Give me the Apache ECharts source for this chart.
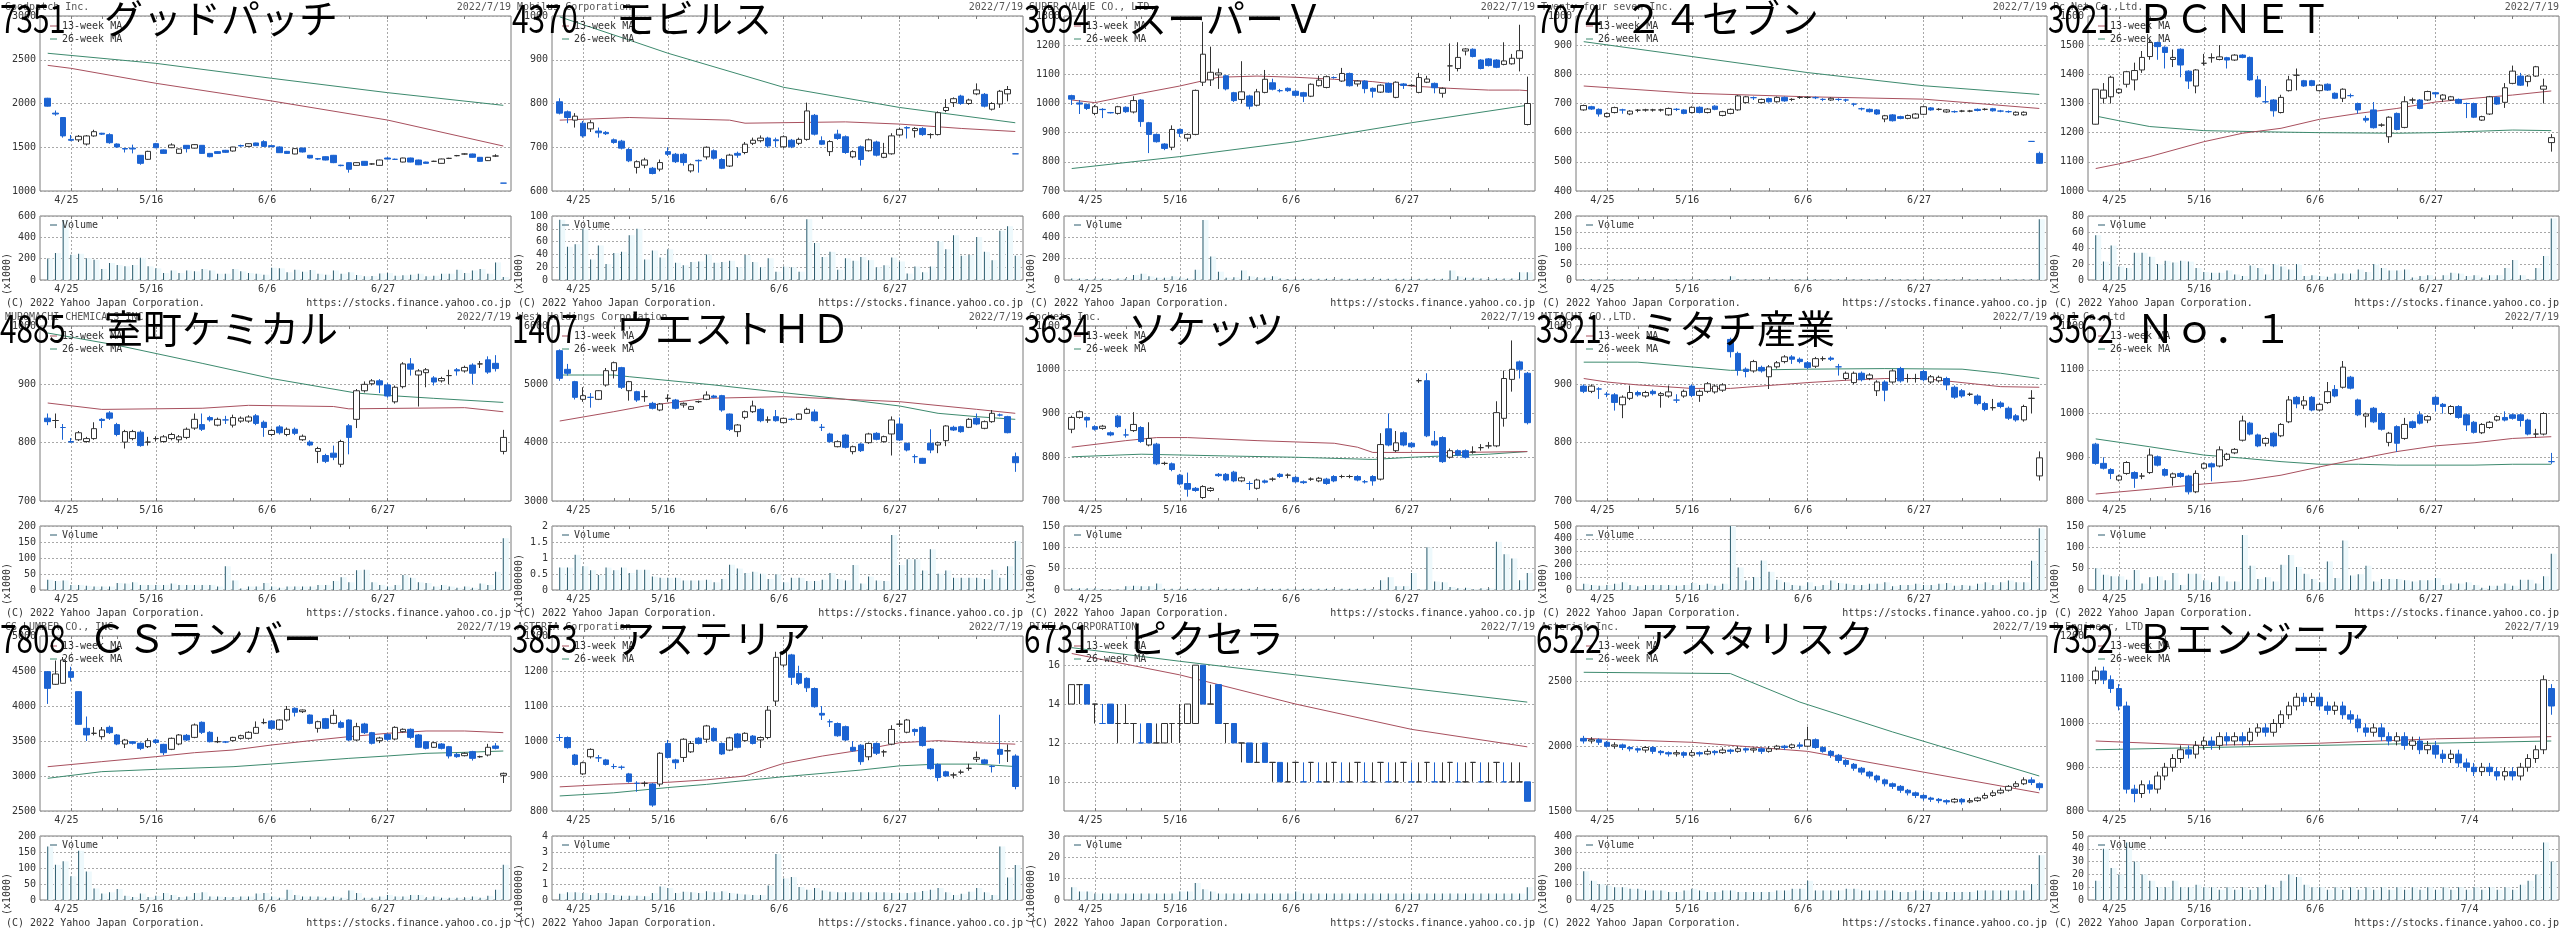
<!DOCTYPE html>
<html><head><meta charset="utf-8">
<script src="https://cdn.jsdelivr.net/npm/echarts@6/dist/echarts.min.js"></script>
<style>
html,body{margin:0;padding:0;background:#fff;}
#wrap{position:relative;width:2560px;height:930px;overflow:hidden;}
.panel{position:absolute;width:512px;height:310px;}
</style></head><body><div id="wrap"></div>
<script>
// Trading days shown on every chart (7/18 is a holiday)
const dates = ['4/20','4/21','4/22','4/25','4/26','4/27','4/28','5/2','5/6','5/9','5/10','5/11','5/12','5/13','5/16','5/17','5/18','5/19','5/20','5/23','5/24','5/25','5/26','5/27','5/30','5/31','6/1','6/2','6/3','6/6','6/7','6/8','6/9','6/10','6/13','6/14','6/15','6/16','6/17','6/20','6/21','6/22','6/23','6/24','6/27','6/28','6/29','6/30','7/1','7/4','7/5','7/6','7/7','7/8','7/11','7/12','7/13','7/14','7/15','7/19'];
const weekStarts = ['4/25','5/2','5/9','5/16','5/23','5/30','6/6','6/13','6/20','6/27','7/4','7/11'];
const labelDates = ['4/25','5/16','6/6','6/27'];
const labelDatesLast = ['4/25','5/16','6/6','7/4'];

// candles are [open, close, low, high]; MA points are [dayIndex, value]
const p1Candles = [[2060,1970,1965,2065],[1890,1880,1860,1920],[1840,1630,1610,1845],[1590,1580,1570,1640],[1585,1625,1560,1640],[1537,1629,1520,1640],[1629,1678,1620,1700],[1660,1650,1640,1665],[1644,1552,1540,1660],[1537,1503,1495,1545],[1485,1480,1440,1490],[1490,1480,1430,1530],[1408,1316,1300,1410],[1362,1453,1355,1460],[1541,1495,1490,1550],[1470,1430,1425,1475],[1495,1526,1490,1545],[1430,1480,1425,1485],[1522,1484,1440,1525],[1490,1530,1485,1535],[1522,1430,1425,1525],[1430,1392,1385,1435],[1450,1430,1425,1455],[1465,1442,1435,1470],[1457,1503,1450,1505],[1520,1515,1505,1530],[1510,1541,1505,1545],[1549,1518,1515,1552],[1564,1510,1505,1580],[1518,1507,1500,1525],[1503,1438,1435,1510],[1453,1430,1425,1458],[1423,1484,1420,1488],[1491,1446,1440,1495],[1408,1377,1372,1412],[1370,1365,1355,1378],[1392,1354,1350,1396],[1408,1324,1318,1412],[1295,1290,1282,1300],[1324,1248,1210,1328],[1293,1324,1290,1328],[1339,1293,1288,1343],[1309,1309,1300,1316],[1293,1354,1290,1358],[1377,1365,1360,1390],[1362,1362,1355,1370],[1331,1377,1327,1380],[1377,1331,1327,1381],[1354,1300,1296,1358],[1331,1316,1312,1335],[1339,1339,1332,1346],[1316,1366,1312,1370],[1373,1373,1365,1380],[1404,1404,1396,1412],[1423,1423,1416,1430],[1423,1385,1380,1427],[1385,1339,1335,1389],[1347,1385,1343,1389],[1400,1400,1390,1420],[1090,1090,1090,1090]];
const p1Volume = [202,252,563,236,246,205,190,103,159,140,128,140,208,128,109,65,90,65,90,81,103,90,59,59,103,81,65,59,50,115,109,72,96,78,93,59,50,90,59,72,47,34,37,62,65,40,44,50,59,34,40,59,59,96,65,90,103,59,165,28];
const p1Ma13 = [[0,2436],[3,2402],[14,2231],[29,2029],[44,1811],[59,1514]];
const p1Ma26 = [[0,2574],[14,2459],[29,2288],[44,2124],[59,1979]];

const p2Candles = [[804,778,775,812],[781,768,755,784],[762,771,745,778],[755,726,722,760],[742,756,735,762],[737,733,722,745],[734,731,728,737],[717,711,708,720],[714,698,695,717],[695,669,666,698],[654,667,640,670],[659,671,652,676],[652,640,638,655],[650,665,645,672],[690,684,680,700],[684,667,664,687],[684,665,658,687],[646,660,642,663],[670,669,642,672],[678,700,672,702],[692,675,672,695],[672,652,650,675],[657,682,655,685],[686,682,676,690],[688,707,684,712],[709,716,705,722],[715,721,711,727],[721,703,699,724],[717,715,700,722],[701,724,698,727],[716,701,698,719],[709,718,705,722],[718,783,715,802],[773,730,727,776],[715,707,705,725],[690,713,680,716],[730,720,717,740],[724,688,685,727],[678,690,675,693],[701,672,658,704],[692,717,690,720],[712,682,679,715],[677,686,675,710],[685,726,683,732],[728,741,725,745],[745,744,720,748],[738,743,722,746],[743,729,726,746],[729,729,720,732],[729,779,727,782],[784,791,780,810],[802,811,792,814],[817,800,797,820],[800,808,797,811],[822,831,819,846],[821,794,791,824],[787,800,784,803],[799,828,790,831],[822,832,805,840],[685,685,685,685]];
const p2Volume = [94,52,56,80,32,54,25,42,44,70,80,32,46,35,48,27,23,28,29,40,27,28,30,20,39,28,20,34,13,21,20,13,95,58,36,44,16,34,30,36,31,20,23,35,29,10,21,12,21,61,48,70,38,39,67,44,31,77,84,38];
const p2Ma13 = [[0,762],[9,768],[22,762],[24,755],[37,758],[44,753],[52,743],[59,736]];
const p2Ma26 = [[0,998],[9,945],[14,915],[29,837],[44,791],[59,756]];

const p3Candles = [[1027,1015,995,1030],[1002,998,964,1012],[997,983,978,1000],[966,989,960,995],[980,979,950,984],[969,968,966,971],[966,989,962,992],[987,972,968,990],[971,1010,966,1025],[1012,938,920,1015],[934,894,830,937],[894,869,866,897],[861,846,840,864],[850,911,840,925],[911,898,885,914],[881,894,870,897],[894,1045,891,1048],[1073,1169,1060,1280],[1081,1107,1060,1195],[1098,1105,1050,1120],[1095,1050,1045,1098],[1037,1010,1005,1040],[1014,1040,1000,1145],[1026,991,980,1030],[994,1040,990,1050],[1038,1083,1035,1115],[1071,1049,1045,1085],[1044,1044,1038,1050],[1052,1044,1040,1055],[1042,1028,1024,1046],[1037,1025,1005,1040],[1025,1066,1022,1069],[1061,1080,1058,1095],[1055,1092,1052,1096],[1089,1089,1085,1093],[1077,1103,1074,1122],[1103,1061,1058,1106],[1067,1077,1058,1080],[1077,1051,1035,1080],[1052,1042,1020,1055],[1039,1063,1036,1066],[1069,1039,1036,1072],[1021,1073,1018,1076],[1067,1062,1050,1070],[1062,1062,1058,1066],[1038,1089,1035,1105],[1073,1084,1070,1095],[1069,1054,1035,1072],[1035,1052,1020,1055],[1129,1129,1077,1206],[1120,1158,1110,1210],[1180,1187,1165,1190],[1186,1161,1158,1189],[1149,1120,1117,1152],[1153,1130,1127,1156],[1149,1124,1121,1152],[1134,1146,1131,1210],[1136,1155,1133,1170],[1155,1181,1110,1270],[928,1000,925,1092]];
const p3Volume = [15,15,9,15,15,9,15,15,47,59,34,22,22,34,22,15,96,563,221,78,22,25,90,34,22,22,34,15,9,9,12,12,12,12,12,12,12,12,12,12,12,12,12,12,12,12,12,12,12,90,34,22,22,15,15,15,15,15,72,72];
const p3Ma13 = [[0,1012],[3,1003],[9,1035],[14,1060],[19,1090],[24,1094],[29,1090],[34,1083],[39,1075],[44,1060],[49,1052],[54,1046],[58,1046],[59,1044]];
const p3Ma26 = [[0,777],[14,818],[29,869],[44,934],[59,994]];

const p4Candles = [[678,693,675,696],[689,681,678,692],[680,664,655,683],[655,666,652,669],[669,686,666,689],[678,678,665,682],[664,674,660,677],[677,677,670,681],[678,678,672,682],[678,678,672,682],[678,678,672,682],[661,683,658,686],[680,680,674,684],[678,666,663,681],[669,687,666,690],[687,669,666,690],[669,681,666,684],[691,680,677,694],[659,672,656,675],[666,680,663,683],[678,726,675,729],[703,723,700,726],[720,720,712,724],[703,714,700,717],[717,706,703,720],[706,721,703,724],[721,709,706,724],[714,714,708,718],[721,721,716,725],[721,721,716,725],[720,720,715,724],[714,714,708,718],[712,718,709,721],[714,714,708,718],[712,712,705,716],[698,698,690,702],[682,682,676,686],[680,672,669,683],[678,664,661,681],[647,658,636,661],[661,641,638,664],[655,649,646,658],[649,659,646,662],[650,664,647,667],[663,689,660,692],[685,678,675,688],[680,680,676,684],[671,678,668,681],[672,672,668,676],[674,674,670,678],[674,674,670,678],[680,676,673,683],[680,680,676,684],[682,675,672,685],[674,674,670,678],[672,672,668,676],[661,670,658,673],[661,670,658,673],[570,570,570,570],[529,495,493,535]];
const p4Volume = [3,2,2,2,2,2,2,2,2,2,2,2,2,2,2,2,2,2,2,12,2,2,2,2,2,2,2,2,2,4,2,2,2,2,2,2,2,2,2,2,2,2,2,2,2,2,2,2,2,2,2,2,2,2,2,2,2,2,2,190];
const p4Ma13 = [[0,760],[14,735],[29,723],[44,715],[59,683]];
const p4Ma26 = [[0,912],[14,861],[29,806],[44,761],[59,731]];

const p5Candles = [[1229,1349,1228,1349],[1318,1346,1300,1370],[1323,1390,1300,1395],[1337,1349,1333,1352],[1366,1409,1355,1412],[1381,1413,1345,1440],[1415,1458,1405,1480],[1461,1509,1450,1520],[1509,1495,1450,1512],[1493,1475,1420,1496],[1451,1458,1425,1485],[1486,1432,1390,1489],[1411,1377,1350,1414],[1360,1415,1335,1418],[1438,1438,1430,1470],[1457,1457,1440,1472],[1451,1460,1448,1500],[1457,1449,1420,1460],[1449,1466,1446,1469],[1466,1458,1455,1469],[1458,1381,1378,1461],[1381,1323,1320,1395],[1306,1306,1300,1360],[1312,1275,1255,1315],[1269,1321,1266,1330],[1344,1381,1341,1395],[1397,1397,1345,1420],[1378,1360,1357,1381],[1378,1362,1359,1381],[1344,1363,1341,1366],[1366,1346,1343,1369],[1335,1318,1315,1338],[1318,1349,1305,1352],[1327,1327,1320,1334],[1300,1278,1265,1303],[1249,1243,1235,1258],[1278,1217,1214,1305],[1226,1226,1220,1232],[1186,1253,1165,1256],[1266,1211,1208,1269],[1218,1306,1215,1325],[1312,1312,1300,1320],[1312,1283,1280,1315],[1312,1341,1309,1344],[1337,1333,1320,1340],[1315,1329,1305,1332],[1312,1323,1309,1326],[1314,1301,1298,1317],[1300,1300,1250,1303],[1300,1253,1250,1303],[1243,1255,1240,1258],[1264,1323,1261,1326],[1321,1298,1295,1324],[1304,1354,1285,1370],[1369,1411,1366,1430],[1394,1363,1360,1405],[1375,1394,1358,1397],[1394,1426,1391,1429],[1349,1360,1300,1385],[1166,1183,1135,1195]];
const p5Volume = [56,23,43,17,15,34,34,29,20,24,22,24,23,15,10,9,9,12,7,5,18,15,7,20,17,13,20,5,6,5,4,8,8,8,13,10,20,15,12,12,13,3,5,6,1,6,9,8,5,6,3,6,6,15,25,6,1,15,30,77];
const p5Ma13 = [[0,1077],[3,1093],[7,1118],[14,1169],[19,1198],[24,1215],[29,1246],[34,1266],[39,1283],[44,1305],[49,1318],[54,1329],[59,1343]];
const p5Ma26 = [[0,1257],[3,1241],[7,1221],[14,1207],[24,1202],[29,1200],[39,1198],[44,1200],[54,1209],[59,1207]];

const p6Candles = [[842,836,830,850],[838,838,825,850],[826,826,805,832],[802,801,800,808],[805,817,803,820],[802,807,800,810],[807,824,805,835],[840,838,825,842],[851,842,839,854],[831,814,811,834],[801,819,790,822],[807,819,804,822],[818,795,793,821],[801,801,795,810],[807,807,802,811],[802,810,800,813],[807,814,804,817],[805,810,800,813],[809,823,806,826],[825,840,822,850],[831,823,820,850],[843,839,836,846],[830,840,828,843],[839,839,832,846],[830,843,826,848],[837,842,834,845],[837,844,834,847],[846,833,830,849],[835,826,810,838],[814,821,811,824],[827,817,814,830],[814,823,811,826],[823,816,813,826],[805,811,803,814],[801,796,794,804],[785,790,765,793],[778,768,765,781],[782,775,770,795],[763,802,758,805],[829,809,780,832],[840,889,825,892],[889,900,886,905],[901,906,898,909],[906,899,885,909],[899,880,877,902],[870,895,867,898],[896,935,893,938],[935,926,915,945],[916,923,862,926],[920,925,895,928],[911,904,898,914],[906,910,903,913],[915,915,900,925],[925,923,915,928],[923,929,920,932],[933,919,900,936],[935,935,928,940],[942,921,918,948],[936,927,922,950],[785,809,780,822]];
const p6Volume = [32,28,30,16,16,13,11,11,11,22,20,24,16,16,16,16,20,16,16,16,16,16,11,74,30,5,11,11,22,11,7,11,11,11,11,16,16,28,40,24,62,63,24,16,11,16,47,38,24,22,11,16,11,7,11,7,20,16,57,162];
const p6Ma13 = [[0,868],[7,857],[20,859],[26,864],[37,862],[39,858],[54,860],[59,853]];
const p6Ma26 = [[0,988],[9,967],[20,936],[29,910],[40,885],[44,881],[50,876],[59,869]];

const p7Candles = [[5577,5103,5060,5600],[5257,5189,5150,5350],[5046,4777,4740,5060],[4743,4806,4700,4950],[4777,4777,4600,4850],[4743,4891,4730,4900],[4989,5234,4960,5280],[5234,5371,5100,5390],[5286,4949,4920,5300],[4891,5046,4720,5060],[4874,4731,4700,4890],[4789,4789,4700,4900],[4674,4589,4570,4700],[4560,4663,4540,4680],[4760,4760,4700,4830],[4731,4589,4570,4750],[4646,4674,4600,4690],[4571,4617,4560,4630],[4703,4703,4680,4720],[4743,4817,4730,4880],[4800,4777,4760,4820],[4806,4560,4530,4820],[4491,4229,4200,4500],[4189,4303,4100,4320],[4434,4531,4400,4550],[4531,4629,4510,4720],[4571,4377,4350,4590],[4389,4389,4340,4450],[4446,4377,4360,4560],[4343,4417,4330,4430],[4400,4400,4380,4420],[4400,4491,4390,4500],[4503,4571,4490,4600],[4526,4377,4360,4570],[4263,4263,4200,4320],[4149,4017,4000,4170],[3931,4017,3920,4040],[4131,3920,3900,4150],[3846,3931,3800,3950],[3977,3863,3840,3990],[4000,4149,3980,4170],[4160,4057,4040,4180],[4017,4103,4000,4120],[4149,4389,3780,4450],[4320,4046,4030,4430],[3989,3874,3850,4000],[3760,3760,3650,3800],[3731,3646,3640,3740],[3989,3874,3820,4230],[3960,4000,3820,4020],[4034,4286,3940,4300],[4263,4217,4200,4290],[4274,4189,4170,4290],[4263,4400,4250,4420],[4417,4320,4300,4500],[4246,4360,4230,4380],[4360,4503,4340,4560],[4474,4474,4450,4500],[4446,4171,4160,4460],[3760,3657,3500,3830]];
const p7Volume = [0.70,0.70,1.10,0.74,0.62,0.47,0.70,0.62,0.70,0.53,0.63,0.63,0.42,0.38,0.38,0.38,0.30,0.30,0.30,0.32,0.24,0.34,0.79,0.67,0.53,0.57,0.51,0.34,0.49,0.24,0.38,0.38,0.28,0.28,0.32,0.53,0.34,0.30,0.78,0.20,0.42,0.30,0.28,1.72,0.78,0.96,0.96,0.61,1.27,0.51,0.61,0.38,0.38,0.38,0.38,0.34,0.63,0.38,0.74,1.53];
const p7Ma13 = [[0,4371],[7,4531],[11,4629],[19,4760],[29,4789],[37,4743],[44,4703],[54,4571],[59,4503]];
const p7Ma26 = [[0,5160],[7,5160],[9,5131],[20,4989],[29,4857],[37,4743],[44,4629],[49,4503],[54,4446],[59,4400]];

const p8Candles = [[864,891,855,895],[891,904,888,907],[891,885,868,893],[870,864,861,873],[866,871,863,874],[856,851,848,859],[894,870,867,897],[851,851,845,865],[861,875,858,903],[868,836,833,871],[828,843,825,880],[830,785,782,833],[786,786,782,790],[785,772,768,788],[759,739,736,762],[740,727,710,765],[729,724,721,732],[708,733,705,736],[724,729,721,732],[761,758,755,764],[761,748,745,764],[766,746,743,769],[746,753,743,756],[740,740,725,745],[729,748,726,751],[746,743,740,749],[750,750,745,754],[761,756,753,764],[759,759,752,763],[754,744,741,757],[744,742,739,747],[750,750,746,754],[746,752,743,755],[750,740,737,753],[756,746,743,759],[756,756,752,760],[756,756,752,760],[756,748,745,759],[744,744,740,748],[756,746,735,759],[750,829,747,855],[865,828,825,900],[815,833,812,860],[856,828,825,859],[832,824,821,835],[975,975,970,980],[975,849,846,992],[837,828,825,860],[845,790,787,848],[800,815,797,820],[815,805,802,818],[815,800,797,818],[812,812,808,825],[822,822,815,830],[826,826,820,835],[826,902,823,928],[889,980,870,998],[978,1001,950,1067],[1018,1001,980,1021],[992,879,875,995]];
const p8Volume = [4,4,4,4,2,2,2,9,10,9,9,15,3,3,3,3,3,3,3,3,3,3,3,3,3,3,3,3,3,2,3,3,3,3,3,3,3,3,3,2,23,30,9,9,40,2,100,20,18,7,4,5,2,4,4,113,84,74,23,40];
const p8Ma13 = [[0,823],[7,838],[11,845],[15,845],[24,838],[29,835],[34,832],[37,823],[39,811],[44,811],[50,811],[59,813]];
const p8Ma26 = [[0,801],[9,807],[20,803],[29,800],[39,795],[44,800],[54,807],[59,813]];

const p9Candles = [[897,888,885,900],[888,897,885,900],[892,892,875,895],[883,883,878,887],[882,869,855,885],[865,878,842,881],[876,886,873,898],[886,882,879,889],[880,886,877,889],[888,884,881,891],[881,884,860,887],[880,887,877,898],[873,873,868,883],[880,888,877,891],[897,881,878,900],[881,888,870,891],[888,901,885,904],[887,897,884,900],[890,899,887,902],[977,956,946,980],[953,924,915,956],[926,922,912,929],[923,939,920,942],[929,923,920,932],[913,930,892,933],[930,937,927,940],[939,947,936,950],[947,943,935,950],[943,939,936,946],[937,929,926,940],[931,944,928,947],[944,944,940,948],[945,943,940,948],[930,930,915,935],[910,919,907,922],[903,919,900,922],[919,908,905,922],[910,916,907,919],[889,904,880,907],[904,890,871,907],[904,923,901,926],[927,906,903,930],[910,910,903,918],[910,910,903,918],[922,908,905,925],[904,913,901,916],[906,912,903,915],[910,899,890,913],[895,878,875,898],[889,880,877,892],[883,883,880,886],[880,867,864,883],[867,857,854,870],[860,860,855,875],[868,862,859,871],[859,842,839,862],[846,839,836,849],[839,862,836,865],[876,876,850,890],[743,774,735,785]];
const p9Volume = [49,39,34,39,49,60,39,30,39,39,39,39,34,39,54,39,49,34,49,500,176,75,101,230,142,80,60,39,34,60,30,39,75,54,49,39,39,49,49,60,30,39,39,49,39,39,49,54,34,39,34,49,60,39,60,75,60,60,228,482];
const p9Ma13 = [[0,910],[3,904],[7,899],[14,893],[19,893],[29,903],[34,907],[39,910],[44,910],[49,903],[54,896],[59,895]];
const p9Ma26 = [[0,938],[7,938],[19,924],[29,926],[39,927],[49,926],[54,919],[59,910]];

const p10Candles = [[930,886,883,933],[886,875,872,900],[872,863,850,875],[848,857,845,860],[863,888,860,891],[865,852,830,868],[857,857,850,864],[865,905,862,920],[901,882,879,904],[872,859,856,875],[854,862,835,865],[863,856,853,866],[857,821,815,860],[821,863,818,870],[875,885,872,888],[885,878,845,888],[880,917,877,925],[895,907,892,910],[910,918,907,921],[939,983,936,995],[978,953,950,981],[951,926,923,954],[932,943,925,946],[955,926,923,958],[949,975,946,978],[981,1031,978,1040],[1037,1022,1012,1040],[1019,1029,1010,1040],[1037,1008,1005,1040],[1008,1021,1005,1024],[1025,1050,1022,1072],[1055,1040,1037,1065],[1060,1106,1057,1120],[1083,1058,1055,1086],[1031,997,994,1034],[994,999,968,1002],[1012,981,978,1015],[1000,964,961,1003],[934,955,925,958],[970,932,912,973],[943,975,940,990],[981,968,965,984],[997,978,975,1005],[985,993,978,996],[1037,1021,1005,1040],[1021,1016,1000,1024],[1000,1016,997,1019],[1016,991,988,1019],[997,974,960,1000],[980,957,954,983],[956,975,953,978],[968,980,965,983],[985,993,982,996],[991,985,982,1005],[997,989,986,1000],[997,984,970,1000],[985,953,950,988],[953,953,945,965],[953,1000,950,1003],[890,890,885,910]];
const p10Volume = [51,36,32,32,24,47,15,30,32,23,40,12,38,38,23,18,32,20,20,129,57,26,30,20,59,82,54,38,26,18,67,28,116,34,37,57,20,26,26,26,23,20,23,23,28,12,15,15,18,12,5,10,10,15,10,24,24,15,32,85];
const p10Ma13 = [[0,816],[7,827],[14,839],[19,846],[24,859],[29,878],[34,896],[39,913],[44,926],[49,933],[54,943],[59,947]];
const p10Ma26 = [[0,942],[7,924],[14,905],[19,898],[24,890],[29,884],[34,884],[39,882],[49,882],[54,884],[59,884]];

const p11Candles = [[4490,4252,4030,4500],[4310,4457,4300,4650],[4324,4657,4320,4700],[4490,4410,4350,4560],[4205,3738,3730,4210],[3681,3586,3500,3850],[3610,3610,3580,3700],[3562,3657,3520,3700],[3695,3619,3600,3720],[3586,3457,3440,3600],[3457,3514,3400,3530],[3490,3467,3450,3500],[3467,3395,3370,3480],[3419,3505,3400,3540],[3514,3480,3460,3530],[3452,3333,3300,3460],[3381,3538,3370,3550],[3457,3586,3440,3600],[3581,3514,3500,3600],[3552,3729,3540,3750],[3767,3624,3600,3780],[3624,3490,3480,3640],[3490,3490,3470,3560],[3486,3486,3470,3500],[3505,3552,3490,3560],[3538,3576,3520,3590],[3538,3624,3520,3640],[3610,3695,3600,3780],[3762,3762,3740,3820],[3786,3681,3660,3800],[3667,3800,3650,3810],[3800,3952,3780,4000],[3967,3910,3850,3980],[3919,3943,3900,3950],[3871,3752,3740,3880],[3681,3776,3620,3790],[3819,3681,3670,3830],[3752,3867,3740,3950],[3762,3695,3680,3790],[3800,3514,3500,3810],[3514,3705,3500,3760],[3743,3619,3600,3760],[3619,3467,3450,3630],[3505,3543,3470,3560],[3595,3524,3500,3610],[3528,3695,3510,3710],[3633,3667,3620,3680],[3667,3552,3530,3680],[3586,3410,3400,3600],[3490,3395,3380,3500],[3410,3476,3400,3490],[3457,3395,3380,3470],[3419,3286,3250,3430],[3310,3276,3260,3330],[3290,3324,3280,3340],[3348,3252,3220,3360],[3276,3276,3260,3290],[3300,3410,3280,3460],[3429,3395,3380,3470],[3010,3038,2900,3050]];
const p11Volume = [167,110,121,74,154,89,36,20,24,34,13,9,20,9,13,22,16,9,11,22,24,11,11,9,9,11,11,20,22,11,7,32,16,11,11,11,7,11,7,30,22,7,7,11,16,11,11,16,16,7,11,7,7,7,7,11,7,13,32,110];
const p11Ma13 = [[0,3133],[7,3205],[14,3276],[19,3333],[24,3371],[29,3443],[34,3505],[39,3562],[44,3610],[49,3643],[54,3643],[59,3619]];
const p11Ma26 = [[0,2967],[7,3062],[14,3095],[24,3133],[29,3171],[39,3252],[44,3286],[49,3324],[54,3338],[59,3357]];

const p12Candles = [[1010,1010,1000,1020],[1010,981,978,1013],[960,933,930,963],[906,938,903,941],[955,976,950,979],[952,952,940,960],[946,933,930,949],[927,927,920,935],[925,925,918,930],[906,884,881,909],[879,879,855,885],[879,879,870,885],[877,817,812,880],[877,965,870,968],[993,953,950,1003],[946,938,920,949],[953,1005,940,1008],[969,993,966,1000],[1008,993,990,1011],[1005,1043,995,1046],[1036,1001,998,1039],[993,963,960,996],[974,1009,971,1012],[1020,982,979,1023],[1001,1022,998,1025],[1014,993,990,1017],[1003,1010,980,1013],[1010,1088,1005,1100],[1114,1239,1100,1255],[1217,1255,1210,1260],[1246,1182,1160,1249],[1193,1165,1160,1215],[1179,1152,1140,1182],[1150,1098,1095,1153],[1079,1074,1060,1100],[1055,1055,1040,1062],[1050,1015,1012,1053],[1041,1003,1000,1044],[982,972,969,1000],[988,941,932,991],[955,993,945,996],[993,965,960,996],[969,969,955,975],[991,1033,988,1045],[1048,1048,1040,1060],[1025,1060,1022,1063],[1033,1027,1015,1036],[1039,987,984,1042],[977,921,918,980],[933,896,885,936],[912,900,897,915],[903,903,893,910],[911,911,905,918],[922,922,915,935],[948,953,940,970],[946,936,933,949],[928,927,910,931],[976,962,935,1075],[972,972,940,990],[957,870,862,962]];
const p12Volume = [0.39,0.48,0.48,0.43,0.31,0.43,0.43,0.31,0.27,0.27,0.27,0.23,0.43,0.85,0.75,0.43,0.52,0.48,0.43,0.54,0.48,0.54,0.43,0.39,0.35,0.31,0.31,0.91,2.88,1.35,1.43,0.81,0.64,0.75,0.60,0.52,0.48,0.48,0.48,0.48,0.48,0.48,0.48,0.43,0.43,0.43,0.48,0.56,0.64,0.75,0.48,0.31,0.39,0.52,0.75,0.48,0.31,3.35,1.41,2.19];
const p12Ma13 = [[0,869],[7,877],[14,882],[19,889],[24,900],[27,922],[29,936],[34,957],[39,974],[44,995],[49,1001],[54,995],[59,991]];
const p12Ma26 = [[0,843],[7,852],[14,867],[19,876],[29,898],[39,917],[44,929],[49,934],[54,934],[59,927]];

const p13Candles = [[14,15,14,15],[15,15,14,15],[15,14,14,15],[14,14,13,14],[13,13,13,14],[14,13,13,14],[13,13,12,14],[13,13,13,14],[13,13,12,13],[12,12,12,13],[13,12,12,13],[12,12,12,13],[12,13,12,13],[13,13,12,13],[13,13,12,14],[13,14,13,14],[13,16,13,16],[16,14,14,16],[14,14,14,15],[15,13,13,15],[13,13,12,13],[13,12,12,13],[12,12,11,12],[12,11,11,12],[11,11,11,12],[12,11,11,12],[11,11,10,11],[11,10,10,11],[10,10,10,11],[11,11,10,11],[10,10,10,11],[11,11,10,11],[10,10,10,11],[10,10,10,11],[11,11,10,11],[10,10,10,11],[10,10,10,11],[11,11,10,11],[10,10,10,11],[10,10,10,11],[11,11,10,11],[10,10,10,11],[10,10,10,11],[11,11,10,11],[10,10,10,11],[10,10,10,11],[11,11,10,11],[10,10,10,11],[10,10,10,11],[11,11,10,11],[10,10,10,11],[10,10,10,11],[11,11,10,11],[10,10,10,11],[10,10,10,11],[11,11,10,11],[10,10,10,11],[10,10,10,11],[10,10,10,11],[10,9,9,10]];
const p13Volume = [6,4,4,3,3,3,3,3,3,3,3,3,3,3,4,4,8,5,4,3,3,3,3,3,3,3,3,3,3,4,3,3,3,3,3,3,3,3,3,3,3,3,3,3,3,3,3,3,3,3,3,3,3,3,3,3,3,3,3,6];
const p13Ma13 = [[0,16.6],[14,15.5],[29,14.0],[44,12.7],[59,11.8]];
const p13Ma26 = [[0,16.9],[14,16.2],[29,15.5],[44,14.8],[59,14.1]];
const p13PriceTicks = [10,12,14,16];

const p14Candles = [[2060,2040,2020,2080],[2040,2050,2020,2070],[2050,2030,2010,2060],[2030,2000,1990,2040],[2000,2010,1980,2030],[2010,1990,1970,2020],[1990,1980,1960,2000],[1980,1970,1950,1990],[1970,1990,1950,2000],[1990,1960,1940,2000],[1960,1950,1930,1970],[1950,1940,1920,1960],[1940,1950,1920,1970],[1950,1930,1910,1960],[1930,1950,1920,1970],[1950,1940,1920,1960],[1940,1960,1930,1980],[1960,1950,1930,1970],[1950,1970,1940,1990],[1970,1960,1940,1980],[1960,1980,1950,2000],[1980,1970,1950,1990],[1970,1980,1950,1990],[1980,1960,1940,1990],[1960,1980,1950,2000],[1980,2000,1970,2010],[2000,1990,1970,2010],[1990,2010,1980,2020],[2010,2000,1980,2030],[2000,2050,1990,2150],[2050,1990,1980,2060],[1990,1960,1950,2000],[1960,1930,1910,1970],[1930,1890,1870,1940],[1890,1860,1840,1900],[1860,1830,1810,1870],[1830,1800,1780,1840],[1800,1770,1750,1810],[1770,1740,1720,1780],[1740,1710,1690,1750],[1710,1690,1670,1720],[1690,1660,1640,1700],[1660,1640,1620,1670],[1640,1620,1600,1650],[1620,1600,1580,1630],[1600,1590,1570,1610],[1590,1580,1560,1600],[1580,1570,1550,1590],[1570,1590,1560,1600],[1590,1570,1550,1600],[1570,1580,1560,1600],[1580,1600,1570,1610],[1600,1620,1590,1640],[1620,1640,1610,1660],[1640,1660,1630,1680],[1660,1690,1650,1700],[1690,1710,1680,1730],[1710,1740,1700,1760],[1740,1720,1700,1760],[1710,1680,1660,1720]];
const p14Volume = [180,120,100,90,80,80,70,70,60,60,60,50,50,60,70,60,50,50,60,60,50,50,50,50,50,60,60,70,70,120,60,60,60,60,70,70,60,60,60,60,60,50,50,60,60,50,50,50,50,50,50,60,60,60,60,60,60,60,100,280];
const p14Ma13 = [[0,2060],[14,2030],[29,1960],[44,1800],[59,1640]];
const p14Ma26 = [[0,2570],[19,2560],[28,2340],[40,2110],[59,1770]];
const p14PriceTicks = [1500,2000,2500];

const p15Candles = [[1100,1120,1090,1130],[1120,1100,1090,1130],[1100,1080,1070,1110],[1080,1040,1030,1090],[1040,850,840,1050],[850,840,820,860],[840,860,830,870],[860,850,840,870],[850,880,840,890],[880,900,870,910],[900,920,890,930],[920,940,910,950],[940,930,920,950],[930,950,920,960],[950,960,940,970],[960,950,940,970],[950,970,940,980],[970,960,950,980],[960,970,950,980],[970,960,950,980],[960,980,950,990],[980,990,970,1000],[990,980,970,1000],[980,1000,970,1010],[1000,1020,990,1030],[1020,1040,1010,1050],[1040,1060,1030,1070],[1060,1050,1040,1070],[1050,1060,1040,1070],[1060,1040,1030,1070],[1040,1030,1020,1050],[1030,1040,1020,1050],[1040,1020,1010,1050],[1020,1010,1000,1030],[1010,990,980,1020],[990,980,970,1000],[980,990,970,1000],[990,970,960,1000],[970,960,950,980],[960,970,950,980],[970,950,940,980],[950,960,940,970],[960,940,930,970],[940,950,930,960],[950,930,920,960],[930,920,910,940],[920,930,910,940],[930,910,900,940],[910,900,890,920],[900,890,880,910],[890,900,880,910],[900,890,880,910],[890,880,870,900],[880,890,870,900],[890,880,870,900],[880,900,870,910],[900,920,890,930],[920,940,910,950],[940,1100,930,1110],[1080,1040,1020,1090]];
const p15Volume = [15,40,25,20,45,30,20,15,10,10,15,10,10,12,10,10,8,10,8,10,8,10,12,10,15,20,18,12,10,10,8,10,8,10,8,10,8,10,8,10,8,10,8,10,8,10,8,10,8,10,8,10,8,10,8,12,15,20,45,30];
const p15Ma13 = [[0,960],[14,950],[29,955],[44,965],[59,970]];
const p15Ma26 = [[0,940],[14,945],[29,950],[44,955],[59,960]];

// per-chart axis settings and names, in reading order
const codes = ['7351','4370','3094','7074','3021','4885','1407','3634','3321','3562','7808','3853','6731','6522','7352'];
const names = ['グッドパッチ','モビルス','スーパーＶ','２４セブン','ＰＣＮＥＴ','室町ケミカル','ウエストＨＤ','ソケッツ','ミタチ産業','Ｎｏ．１','ＣＳランバー','アステリア','ピクセラ','アスタリスク','Ｂエンジニア'];
const companies = ['Goodpatch Inc.','Mobilus Corporation','SUPER VALUE CO., LTD.','Twenty-four seven Inc.','Pc Net Co.,Ltd.','MUROMACHI CHEMICALS INC.','West Holdings Corporation','Sockets Inc.','MITACHI CO.,LTD.','No.1 Co.,Ltd','CS LUMBER CO., INC','ASTERIA Corporation','PIXELA CORPORATION','Asterisk Inc.','B-Engineer, LTD.'];
const priceAxes = [[1000,3000,500],[600,1000,100],[700,1300,100],[400,1000,100],[1000,1600,100],[700,1000,100],[3000,6000,1000],[700,1100,100],[700,1000,100],[800,1200,100],[2500,5000,500],[800,1300,100],[8.5,17.5,null],[1500,2850,null],[800,1200,100]];
const volumeAxes = [[600,200],[100,20],[600,200],[200,50],[80,20],[200,50],[2,0.5],[150,50],[500,100],[150,50],[200,50],[4,1],[30,10],[400,100],[50,10]];
const volumeUnits = ['(x1000)','(x1000)','(x1000)','(x1000)','(x1000)','(x1000)','(x1000000)','(x1000)','(x1000)','(x1000)','(x1000)','(x1000000)','(x1000000)','(x1000)','(x1000)'];

const candleSets = [p1Candles,p2Candles,p3Candles,p4Candles,p5Candles,p6Candles,p7Candles,p8Candles,p9Candles,p10Candles,p11Candles,p12Candles,p13Candles,p14Candles,p15Candles];
const volumeSets = [p1Volume,p2Volume,p3Volume,p4Volume,p5Volume,p6Volume,p7Volume,p8Volume,p9Volume,p10Volume,p11Volume,p12Volume,p13Volume,p14Volume,p15Volume];
const ma13Sets = [p1Ma13,p2Ma13,p3Ma13,p4Ma13,p5Ma13,p6Ma13,p7Ma13,p8Ma13,p9Ma13,p10Ma13,p11Ma13,p12Ma13,p13Ma13,p14Ma13,p15Ma13];
const ma26Sets = [p1Ma26,p2Ma26,p3Ma26,p4Ma26,p5Ma26,p6Ma26,p7Ma26,p8Ma26,p9Ma26,p10Ma26,p11Ma26,p12Ma26,p13Ma26,p14Ma26,p15Ma26];
const customTicks = { 12: p13PriceTicks, 13: p14PriceTicks };

const MONO = '"DejaVu Sans Mono", "Liberation Mono", monospace';
const TXT = '#333';
const UP_BORDER = '#333';
const DOWN = '#1b63d2';
const MA13_COLOR = '#a8505e';
const MA26_COLOR = '#3d8a6e';
const VOL_LINE = '#2a5a6c';
const VOL_FILL = '#eef9fc';
const GRID_LINE = '#a8a8a8';
const FRAME = '#7a7a7a';
const DASH = { color: GRID_LINE, type: [2, 2], width: 1 };

// categories padded by one empty slot on each side
const cats = [''].concat(dates).concat([' ']);

function xAxesFor(gridIndex, labels) {
  const isWeek = (i, v) => weekStarts.indexOf(v) >= 0;
  const isLabel = (i, v) => labels.indexOf(v) >= 0;
  return [{
    type: 'category', gridIndex, data: cats, boundaryGap: false, position: 'bottom',
    axisLine: { show: false },
    axisTick: { show: true, inside: true, length: 3, interval: isWeek, lineStyle: { color: FRAME } },
    axisLabel: { show: true, interval: isLabel, color: TXT, fontFamily: MONO, fontSize: 10, margin: 4, padding: [0, 9, 0, 0] },
    splitLine: { show: true, interval: isLabel, lineStyle: DASH }
  }, {
    type: 'category', gridIndex, data: cats, boundaryGap: false, position: 'top',
    axisLine: { show: false },
    axisTick: { show: true, inside: true, length: 3, interval: isWeek, lineStyle: { color: FRAME } },
    axisLabel: { show: false }, splitLine: { show: false }
  }];
}

function pad(arr, empty) { return [empty].concat(arr).concat([empty]); }
// names that open with a full-width letter or digit sit a little further left
function nameX(name) { const c = name.charCodeAt(0); return (c >= 0xFF10 && c <= 0xFF5A) ? 88 : 104; }

function buildOption(k) {
  const [pmin, pmax, pint] = priceAxes[k];
  const [vmax, vint] = volumeAxes[k];
  const candles = pad(candleSets[k].map(d => [d[0], d[1], d[2], d[3]]), '-');
  const vols = pad(volumeSets[k], '-');
  const ma13 = ma13Sets[k].map(p => [p[0] + 1, p[1]]);
  const ma26 = ma26Sets[k].map(p => [p[0] + 1, p[1]]);
  const yLabel = { color: TXT, fontFamily: MONO, fontSize: 10, margin: 4, formatter: v => String(v) };
  const ticks = customTicks[k];
  const priceY = ticks
    ? { type: 'value', gridIndex: 0, min: pmin, max: pmax, axisLine: { show: false },
        axisTick: { show: false, customValues: ticks }, axisLabel: Object.assign({ customValues: ticks }, yLabel), splitLine: { show: false } }
    : { type: 'value', gridIndex: 0, min: pmin, max: pmax, interval: pint, axisLine: { show: false }, axisTick: { show: false }, axisLabel: yLabel, splitLine: { show: true, lineStyle: DASH } };
  const candleSeries = { type: 'candlestick', xAxisIndex: 0, yAxisIndex: 0, data: candles, barWidth: 6, z: 3,
    itemStyle: { color: '#fff', color0: DOWN, borderColor: UP_BORDER, borderColor0: DOWN, borderWidth: 1 } };
  if (ticks) {
    // horizontal guide lines at the labelled prices
    candleSeries.markLine = { silent: true, symbol: 'none', label: { show: false }, lineStyle: DASH, z: 1,
      data: ticks.filter(v => v > pmin && v < pmax).map(v => ({ yAxis: v })) };
  }
  const labels = k === 14 ? labelDatesLast : labelDates;
  return {
    animation: false,
    grid: [
      { left: 40, top: 16, width: 471, height: 175, show: true, borderColor: FRAME, borderWidth: 1, backgroundColor: '#fff' },
      { left: 40, top: 216, width: 471, height: 64, show: true, borderColor: FRAME, borderWidth: 1, backgroundColor: '#fff' }
    ],
    xAxis: xAxesFor(0, labels).concat(xAxesFor(1, labels)),
    yAxis: [
      priceY,
      { type: 'value', gridIndex: 1, min: 0, max: vmax, interval: vint, axisLine: { show: false }, axisTick: { show: false }, axisLabel: yLabel, splitLine: { show: true, lineStyle: DASH } }
    ],
    series: [
      { type: 'line', xAxisIndex: 0, yAxisIndex: 0, data: ma26, symbol: 'none', lineStyle: { color: MA26_COLOR, width: 1 }, z: 2, silent: true },
      { type: 'line', xAxisIndex: 0, yAxisIndex: 0, data: ma13, symbol: 'none', lineStyle: { color: MA13_COLOR, width: 1 }, z: 2, silent: true },
      candleSeries,
      { type: 'bar', xAxisIndex: 2, yAxisIndex: 1, data: vols, barWidth: 6, barGap: '-100%', itemStyle: { color: VOL_FILL }, z: 2, silent: true },
      { type: 'bar', xAxisIndex: 2, yAxisIndex: 1, data: vols, barWidth: 1, barGap: '-100%', itemStyle: { color: VOL_LINE }, z: 3, silent: true }
    ],
    graphic: [
      { type: 'text', left: 5, top: 2, style: { text: companies[k], font: '10px ' + MONO, fill: '#555' }, z: 10 },
      { type: 'text', right: 1, top: 2, style: { text: '2022/7/19', font: '10px ' + MONO, fill: '#555' }, z: 10 },
      { type: 'line', shape: { x1: 50, y1: 26, x2: 57, y2: 26 }, style: { stroke: MA13_COLOR, lineWidth: 1 }, z: 10 },
      { type: 'text', x: 62, y: 26, style: { text: '13-week MA', font: '10px ' + MONO, fill: TXT, verticalAlign: 'middle' }, z: 10 },
      { type: 'line', shape: { x1: 50, y1: 39, x2: 57, y2: 39 }, style: { stroke: MA26_COLOR, lineWidth: 1 }, z: 10 },
      { type: 'text', x: 62, y: 39, style: { text: '26-week MA', font: '10px ' + MONO, fill: TXT, verticalAlign: 'middle' }, z: 10 },
      { type: 'line', shape: { x1: 50, y1: 225, x2: 57, y2: 225 }, style: { stroke: VOL_LINE, lineWidth: 1 }, z: 10 },
      { type: 'text', x: 62, y: 225, style: { text: 'Volume', font: '10px ' + MONO, fill: TXT, verticalAlign: 'middle' }, z: 10 },
      { type: 'text', x: 7, y: 274, rotation: Math.PI / 2, style: { text: volumeUnits[k], font: '10px ' + MONO, fill: TXT, align: 'center', verticalAlign: 'middle' }, z: 10 },
      { type: 'text', x: 6, y: 303, style: { text: '(C) 2022 Yahoo Japan Corporation.', font: '10px ' + MONO, fill: TXT, verticalAlign: 'middle' }, z: 10 },
      { type: 'text', x: 511, y: 303, style: { text: 'https://stocks.finance.yahoo.co.jp', font: '10px ' + MONO, fill: TXT, align: 'right', verticalAlign: 'middle' }, z: 10 },
      { type: 'text', x: 0, y: 18, scaleX: 0.76, style: { text: codes[k], font: '39px "Noto Sans CJK JP"', fill: '#000', verticalAlign: 'middle' }, z: 20 },
      { type: 'text', x: nameX(names[k]), y: 18, style: { text: names[k], font: '39px "Noto Sans CJK JP"', fill: '#000', verticalAlign: 'middle' }, z: 20 }
    ]
  };
}

const wrap = document.getElementById('wrap');
for (let k = 0; k < 15; k++) {
  const div = document.createElement('div');
  div.className = 'panel';
  div.style.left = (k % 5) * 512 + 'px';
  div.style.top = Math.floor(k / 5) * 310 + 'px';
  wrap.appendChild(div);
  const chart = echarts.init(div, null, { renderer: 'canvas' });
  chart.setOption(buildOption(k));
}
</script>
</body></html>
